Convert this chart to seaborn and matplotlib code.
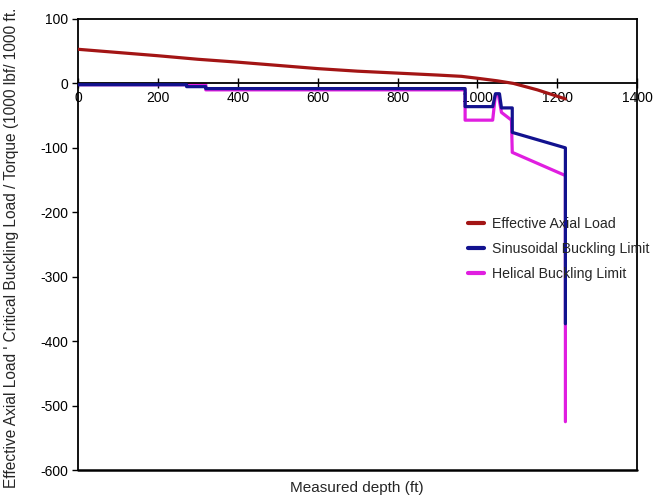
import matplotlib
matplotlib.use("Agg")
import matplotlib.pyplot as plt
import seaborn as sns
import pandas as pd

# ---- data ----
axial_depth = [0, 100, 200, 300, 400, 500, 600, 700, 800, 900, 960, 1000, 1050, 1090, 1150, 1220]
axial_load = [53, 48, 43, 37.5, 33, 28, 23, 19, 16, 13, 11, 8, 4, 0, -10, -24]

sin_depth = [0, 272, 272, 320, 320, 969, 969, 1038, 1045, 1055, 1060, 1087, 1087, 1220, 1220]
sin_limit = [-2, -2, -5, -5, -8, -8, -36, -36, -16, -16, -38, -38, -76, -100, -373]

hel_depth = [0, 320, 320, 969, 969, 1038, 1045, 1052, 1060, 1085, 1087, 1220, 1220]
hel_limit = [-2, -2, -10, -10, -57, -57, -17, -17, -45, -57, -107, -143, -525]

x_ticks = [0, 200, 400, 600, 800, 1000, 1200, 1400]
y_ticks = [100, 0, -100, -200, -300, -400, -500, -600]

series_names = ["Effective Axial Load", "Sinusoidal Buckling Limit", "Helical Buckling Limit"]
colors = ["#A31515", "#12128F", "#E01EE0"]

sns.set_style("white")
plt.rcParams["font.family"] = ["Liberation Sans", "DejaVu Sans"]

fig = plt.figure(figsize=(6.55, 5.0), dpi=100)
ax = fig.add_axes([0.119, 0.06, 0.854, 0.902])

df_a = pd.DataFrame({"depth": axial_depth, "val": axial_load})
df_s = pd.DataFrame({"depth": sin_depth, "val": sin_limit})
df_h = pd.DataFrame({"depth": hel_depth, "val": hel_limit})

sns.lineplot(data=df_a, x="depth", y="val", sort=False, estimator=None, ax=ax,
             color=colors[0], linewidth=2.3, label=series_names[0], zorder=4)
sns.lineplot(data=df_s, x="depth", y="val", sort=False, estimator=None, ax=ax,
             color=colors[1], linewidth=2.3, label=series_names[1], zorder=3)
sns.lineplot(data=df_h, x="depth", y="val", sort=False, estimator=None, ax=ax,
             color=colors[2], linewidth=2.3, label=series_names[2], zorder=2)

ax.set_xlim(0, 1400)
ax.set_ylim(-600, 100)
ax.set_xticks(x_ticks)
ax.set_yticks(y_ticks)
ax.set_xticklabels([str(t) for t in x_ticks], fontsize=10)
ax.set_yticklabels([str(t) for t in y_ticks], fontsize=10)

# x axis drawn through zero, frame closed by a line at the bottom
ax.spines["bottom"].set_position(("data", 0))
for s in ["bottom", "left", "right", "top"]:
    ax.spines[s].set_color("black")
    ax.spines[s].set_linewidth(1.3)
ax.axhline(-600, color="black", linewidth=1.8, clip_on=False, zorder=5)

ax.tick_params(axis="x", direction="inout", length=7, width=1, pad=2, colors="black")
ax.tick_params(axis="y", direction="out", length=4, width=1, pad=3, colors="black")
ax.xaxis.set_ticks_position("bottom")
ax.yaxis.set_ticks_position("left")

ax.set_xlabel("")
ax.set_ylabel("")
fig.text(0.545, 0.024, "Measured depth (ft)", ha="center", va="center", fontsize=11)
fig.text(0.017, 0.505, "Effective Axial Load ' Critical Buckling Load / Torque (1000 lbf/ 1000 ft.",
         rotation=90, ha="center", va="center", fontsize=11.2)

leg = ax.legend(loc="upper left", bbox_to_anchor=(0.675, 0.59), frameon=False,
                fontsize=10.2, handlelength=1.1, handletextpad=0.55, labelspacing=0.78)
for line in leg.get_lines():
    line.set_linewidth(3)

fig.savefig("out.png", dpi=100)
